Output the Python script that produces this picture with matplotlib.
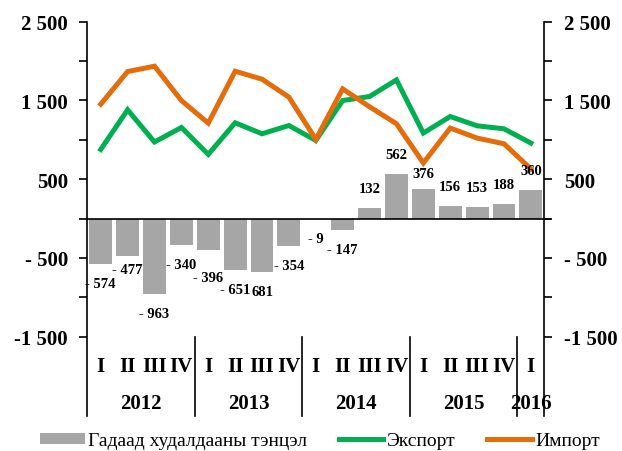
import matplotlib
matplotlib.use("Agg")
import matplotlib.pyplot as plt
from matplotlib.lines import Line2D
from matplotlib.patches import Patch
import numpy as np

plt.rcParams['font.family'] = ['Liberation Serif', 'DejaVu Serif']

quarters = ["I", "II", "III", "IV"] * 4 + ["I"]
years = ["2012", "2013", "2014", "2015", "2016"]
year_counts = [4, 4, 4, 4, 1]

balance = [-574, -477, -963, -340, -396, -651, -681, -354, -9, -147,
           132, 562, 376, 156, 153, 188, 360]
export = [878, 1381, 972, 1157, 815, 1216, 1077, 1182, 992, 1499,
          1550, 1761, 1086, 1296, 1178, 1140, 959]
imports = [1453, 1867, 1935, 1499, 1212, 1871, 1770, 1542, 1005, 1647,
           1420, 1204, 706, 1149, 1022, 950, 630]

balance_label = ["- 574", "- 477", "- 963", "- 340", "- 396", "- 651", "681",
                 "- 354", "- 9", "- 147", "132", "562", "376", "156", "153",
                 "188", "360"]

yticks_major = [2500, 1500, 500, -500, -1500]
ytick_labels = ["2 500", "1 500", "500", "- 500", "-1 500"]

legend_labels = ["Гадаад худалдааны тэнцэл", "Экспорт", "Импорт"]

c_bar = "#A6A6A6"
c_exp = "#00B050"
c_imp = "#E46C0A"

fig = plt.figure(figsize=(6.22, 4.52), dpi=100)
ax = fig.add_axes([87.3 / 622, 1 - 337.7 / 452, (544.3 - 87.3) / 622, 315 / 452])

n = len(balance)
x = np.arange(n)
ax.bar(x, balance, width=0.85, color=c_bar, zorder=2)
ax.plot(x, export, color=c_exp, lw=3.6, zorder=3, solid_joinstyle='miter')
ax.plot(x, imports, color=c_imp, lw=3.6, zorder=3, solid_joinstyle='miter')

ax.set_xlim(-0.5, n - 0.5)
ax.set_ylim(-1500, 2500)

# data labels
extra = {1: -6, 4: 8, 12: -4}
for i, (v, t) in enumerate(zip(balance, balance_label)):
    off = 14 + extra.get(i, 0) * 0.72
    if v < 0:
        ax.annotate(t, (i, v), xytext=(0, -off), textcoords='offset points',
                    ha='center', va='center', fontsize=10.5, fontweight='bold', zorder=5)
    else:
        ax.annotate(t, (i, v), xytext=(0, off), textcoords='offset points',
                    ha='center', va='center', fontsize=10.5, fontweight='bold', zorder=5)

# zero line
ax.axhline(0, color='black', lw=1.2, zorder=4)
ax.plot([n - 0.5, n - 0.5 + 0.2], [0, 0], color='black', lw=1.2, clip_on=False)

for s in ax.spines.values():
    s.set_visible(False)

ax.set_yticks(np.arange(-1500, 2501, 500))
ax.set_yticklabels([ytick_labels[yticks_major.index(v)] if v in yticks_major else ""
                    for v in np.arange(-1500, 2501, 500)])
ax.tick_params(axis='y', direction='out', length=6, width=1.2, pad=8,
               labelsize=15, left=True, right=True, labelleft=True, labelright=True)
for lbl in ax.get_yticklabels(which='both'):
    lbl.set_fontweight('bold')
ax.set_xticks([])

# spines extended through category area
ybot = -0.252
for xa in (0, 1):
    ax.add_line(Line2D([xa, xa], [1, ybot], transform=ax.transAxes, color='black',
                       lw=1.2, clip_on=False))

# category labels
trans = ax.get_xaxis_transform()
for i, q in enumerate(quarters):
    ax.text(i, -0.094, q, transform=trans, ha='center', va='center',
            fontsize=15, fontweight='bold')
start = 0
for yr, cnt in zip(years, year_counts):
    ax.text(start + (cnt - 1) / 2, -0.212, yr, transform=trans, ha='center',
            va='center', fontsize=15, fontweight='bold')
    start += cnt
    if start < n:
        ax.add_line(Line2D([start - 0.5, start - 0.5], [0, ybot], transform=trans,
                           color='black', lw=1.2, clip_on=False))

handles = [Patch(facecolor=c_bar, edgecolor='none'),
           Line2D([], [], color=c_exp, lw=3.6),
           Line2D([], [], color=c_imp, lw=3.6)]
fig.legend(handles, legend_labels, loc='center',
           bbox_to_anchor=(0.5 + 9 / 622, 1 - 442 / 452),
           ncol=3, frameon=False, fontsize=14, handlelength=2.3, handleheight=0.5,
           handletextpad=0.2, columnspacing=1.6, borderpad=0)

fig.savefig("out.png", dpi=100)
